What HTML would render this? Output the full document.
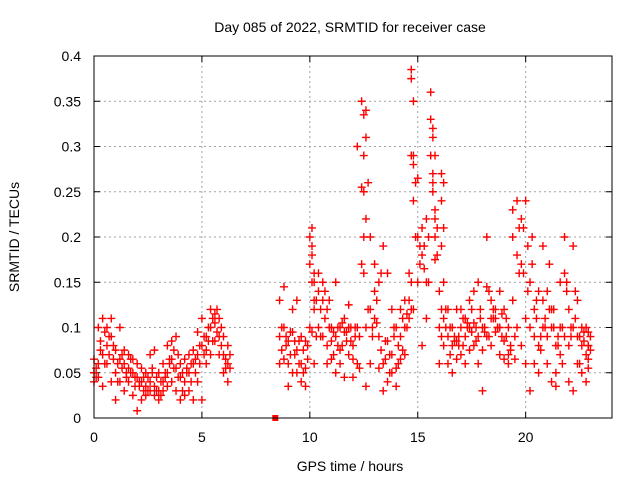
<!DOCTYPE html>
<html><head><meta charset="utf-8"><style>
body{margin:0;background:#fff;}
svg text{font-family:"Liberation Sans",sans-serif;font-size:14px;fill:#000;}
</style></head><body>
<svg id="chart" width="640" height="480" xmlns="http://www.w3.org/2000/svg">
<text x="350" y="32" text-anchor="middle">Day 085 of 2022, SRMTID for receiver case</text>
<text x="350" y="471" text-anchor="middle">GPS time / hours</text>
<text transform="translate(19,237) rotate(-90)" text-anchor="middle">SRMTID / TECUs</text>
<g id="grid"></g>
<g id="ticks"></g>
<g id="marks"></g>
<rect x="94" y="56" width="518" height="362" fill="none" stroke="#000" stroke-width="1"/>
</svg>
<script>
const xTicks=[0,5,10,15,20];
const yTicks=[0,0.05,0.1,0.15,0.2,0.25,0.3,0.35,0.4];
const yTickLabels=["0","0.05","0.1","0.15","0.2","0.25","0.3","0.35","0.4"];
const times=[0.0,0.2,0.4,0.6,0.8,1.0,1.2,1.4,1.6,1.8,2.0,2.2,2.4,2.6,2.8,3.0,3.2,3.4,3.6,3.8,4.0,4.2,4.4,4.6,4.8,5.0,5.2,5.4,5.6,5.8,6.0,6.2,
8.6,8.8,9.0,9.2,9.4,9.6,9.8,10.0,10.1,10.2,10.4,10.6,10.8,11.0,11.2,11.4,11.6,11.8,12.0,12.2,12.4,12.5,12.6,12.8,13.0,13.2,13.4,13.6,13.8,14.0,14.2,14.4,14.6,14.7,14.8,15.0,15.2,15.4,15.6,15.7,15.8,16.0,16.1,16.2,16.4,16.6,16.8,17.0,17.2,17.4,17.6,17.8,18.0,18.2,18.4,18.6,18.8,19.0,19.2,19.4,19.6,19.8,20.0,20.2,20.4,20.6,20.8,21.0,21.2,21.4,21.6,21.8,22.0,22.2,22.4,22.6,22.8,22.9];
const seriesA=[0.04,0.06,0.07,0.08,0.09,0.075,0.065,0.06,0.055,0.05,0.045,0.04,0.035,0.04,0.035,0.03,0.04,0.05,0.065,0.055,0.045,0.04,0.05,0.06,0.07,0.08,0.075,0.1,0.105,0.09,0.07,0.06,
0.09,0.1,0.085,0.095,0.075,0.06,0.085,0.2,0.21,0.15,0.14,0.13,0.12,0.085,0.09,0.1,0.095,0.125,0.065,0.1,0.35,0.335,0.1,0.2,0.11,0.15,0.06,0.16,0.07,0.1,0.12,0.07,0.16,0.385,0.29,0.2,0.18,0.22,0.36,0.31,0.22,0.14,0.27,0.11,0.09,0.08,0.085,0.1,0.11,0.1,0.105,0.09,0.1,0.2,0.11,0.11,0.1,0.085,0.07,0.23,0.24,0.17,0.24,0.15,0.12,0.14,0.19,0.14,0.1,0.08,0.15,0.2,0.12,0.19,0.09,0.08,0.1,0.095];
const seriesB=[0.065,0.1,0.11,0.06,0.11,0.02,0.1,0.075,0.07,0.065,0.06,0.055,0.05,0.07,0.075,0.05,0.06,0.08,0.085,0.09,0.06,0.065,0.07,0.075,0.095,0.11,0.09,0.12,0.115,0.11,0.05,0.04,
0.13,0.145,0.06,0.12,0.13,0.09,0.055,0.17,0.18,0.12,0.1,0.09,0.08,0.1,0.15,0.075,0.11,0.1,0.08,0.3,0.255,0.29,0.22,0.12,0.17,0.09,0.19,0.085,0.12,0.055,0.09,0.13,0.11,0.375,0.24,0.265,0.21,0.15,0.33,0.27,0.2,0.1,0.24,0.08,0.06,0.1,0.065,0.12,0.09,0.13,0.14,0.06,0.03,0.145,0.13,0.12,0.14,0.065,0.06,0.2,0.18,0.22,0.11,0.1,0.09,0.08,0.13,0.09,0.12,0.05,0.1,0.16,0.08,0.1,0.13,0.1,0.04,0.08];
const seriesC=[0.05,0.045,0.035,0.1,0.04,0.05,0.04,0.03,0.04,0.025,0.008,0.02,0.025,0.03,0.025,0.02,0.03,0.035,0.04,0.03,0.02,0.025,0.03,0.02,0.04,0.02,0.06,0.07,0.085,0.07,0.09,0.08,
0.06,0.065,0.035,0.05,0.05,0.04,0.035,0.1,0.095,0.06,0.16,0.15,0.06,0.065,0.05,0.06,0.045,0.07,0.045,0.06,0.17,0.2,0.035,0.06,0.14,0.055,0.03,0.04,0.05,0.035,0.065,0.1,0.13,0.29,0.12,0.15,0.08,0.11,0.29,0.25,0.175,0.06,0.19,0.15,0.12,0.05,0.12,0.07,0.06,0.075,0.08,0.15,0.075,0.09,0.08,0.095,0.07,0.12,0.1,0.13,0.1,0.08,0.06,0.03,0.06,0.05,0.1,0.06,0.04,0.035,0.07,0.09,0.04,0.03,0.06,0.05,0.07,0.055];
const midOffset=0.1;
const seriesD=[0.055,0.085,0.095,0.07,0.08,0.06,0.055,0.05,0.065,0.045,0.035,0.03,0.045,0.05,0.03,0.04,0.05,0.06,0.075,0.07,0.05,0.055,0.06,0.065,0.08,0.09,0.085,0.11,0.095,0.08,0.065,0.055,
0.1,0.08,0.095,0.07,0.085,0.075,0.065,0.19,0.16,0.13,0.12,0.14,0.1,0.095,0.08,0.105,0.085,0.1,0.09,0.055,0.25,0.34,0.26,0.1,0.13,0.16,0.065,0.07,0.1,0.08,0.11,0.1,0.12,0.28,0.26,0.17,0.19,0.2,0.32,0.29,0.21,0.12,0.26,0.1,
0.1,0.09,0.08,0.11,0.105,0.12,0.1,0.12,0.095,0.14,0.11,0.1,0.115,0.09,0.075,0.065,0.21,0.16,0.19,0.17,0.13,0.09,0.11,0.17,0.12,0.08,0.1,0.14,0.1,0.14,0.09,0.085,0.08,0.09];
const seriesE=[0.045,0.075,0.06,0.09,0.065,0.04,0.07,0.045,0.05,0.035,0.04,0.045,0.03,0.055,0.045,0.025,0.045,0.065,0.055,0.045,0.03,0.05,0.04,0.05,0.06,0.07,0.1,0.085,0.12,0.1,0.055,0.07,
0.075,0.09,0.07,0.085,0.06,0.05,0.08,0.15,0.13,0.09,0.09,0.11,0.13,0.07,0.1,0.08,0.095,0.085,0.1,0.09,0.16,0.31,0.12,0.09,0.105,0.075,0.085,0.05,0.09,0.06,0.075,0.115,0.15,0.35,0.2,0.19,0.165,0.15,0.26,0.23,0.18,0.09,0.21,0.12,
0.07,0.085,0.09,0.08,0.1,0.095,0.085,0.11,0.1,0.09,0.12,0.1,0.09,0.11,0.08,0.09,0.16,0.21,0.14,0.2,0.11,0.075,0.1,0.12,0.1,0.09,0.06,0.15,0.09,0.11,0.06,0.095,0.065,0.075];
const squareTimes=[8.4];
const squareValues=[0];

const X0=94,X1=612,Y0=418,Y1=56,XMAX=24,YMAX=0.4;
function xs(v){return X0+(X1-X0)*v/XMAX;}
function ys(v){return Y0-(Y0-Y1)*v/YMAX;}
const NS="http://www.w3.org/2000/svg";
const grid=document.getElementById('grid'),ticks=document.getElementById('ticks'),marks=document.getElementById('marks');
function mk(tag,attrs,parent){const e=document.createElementNS(NS,tag);for(const k in attrs)e.setAttribute(k,attrs[k]);parent.appendChild(e);return e;}
xTicks.forEach(t=>{
  const x=xs(t);
  if(t>0){const g=mk('line',{x1:x,x2:x,y1:Y0,y2:Y1,stroke:'#a0a0a0','stroke-dasharray':'2,3'},grid);
  
  }
  mk('line',{x1:x,x2:x,y1:Y0,y2:Y0-6,stroke:'#000'},ticks);
  mk('line',{x1:x,x2:x,y1:Y1,y2:Y1+6,stroke:'#000'},ticks);
  const l=mk('text',{x:x,y:Y0+24,'text-anchor':'middle'},ticks);l.textContent=t;
  
  
});
yTicks.forEach((t,i)=>{
  const y=ys(t);
  if(t>0&&t<YMAX){const g=mk('line',{x1:X0,x2:X1,y1:y,y2:y,stroke:'#a0a0a0','stroke-dasharray':'2,3'},grid);
  
  }
  mk('line',{x1:X0,x2:X0+6,y1:y,y2:y,stroke:'#000'},ticks);
  mk('line',{x1:X1,x2:X1-6,y1:y,y2:y,stroke:'#000'},ticks);
  const l=mk('text',{x:X0-13,y:y+5,'text-anchor':'end'},ticks);l.textContent=yTickLabels[i];
  
  
});
function cross(t,v){
  const x=xs(t),y=ys(v);
  const p=mk('path',{d:`M${x-4},${y}h8M${x},${y-4}v8`,stroke:'#ff0000','stroke-width':1.4,fill:'none'},marks);
  
  
}
times.forEach((t,i)=>{
  cross(t,seriesA[i]);cross(t,seriesB[i]);cross(t,seriesC[i]);
  cross(t+midOffset,seriesD[i]);cross(t+midOffset,seriesE[i]);
});
squareTimes.forEach((t,i)=>{
  const r=mk('rect',{x:xs(t)-3,y:ys(squareValues[i])-3,width:6,height:6,fill:'#ff0000'},marks);
  
  
});
</script>
</body></html>
